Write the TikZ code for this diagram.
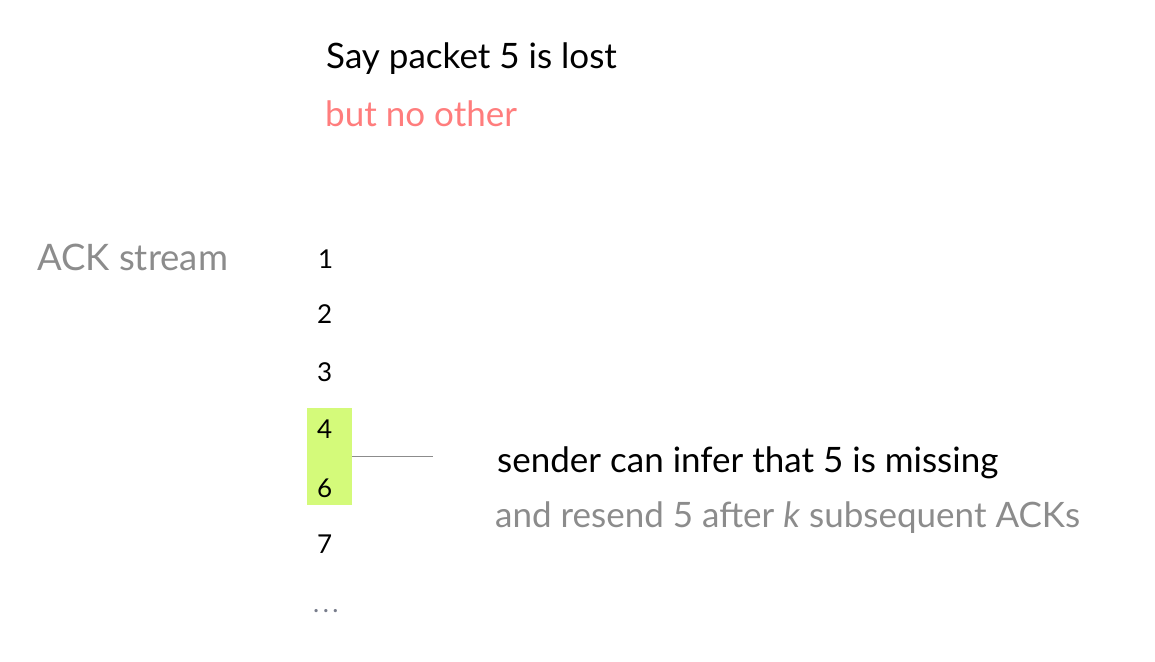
\documentclass[tikz,border=0pt]{standalone}
\usepackage{fontspec}
\setmainfont{Lato}
\usepackage{xcolor}
\usepackage{tikz}
\usetikzlibrary{positioning}
\definecolor{ackgray}{RGB}{140,140,140}
\definecolor{lostpink}{RGB}{255,125,125}
\definecolor{hlgreen}{RGB}{212,250,122}
\definecolor{dotgray}{RGB}{120,125,140}
\tikzset{
  title/.style={anchor=base west, inner sep=0pt, font=\fontsize{35}{40}\selectfont},
  subtitle/.style={title, text=lostpink},
  streamlbl/.style={title, text=ackgray, font=\fontsize{36.5}{42}\selectfont},
  ack/.style={anchor=base west, inner sep=0pt, font=\fontsize{26}{30}\selectfont},
  hlbox/.style={fill=hlgreen, draw=none, minimum width=45pt, minimum height=97pt, inner sep=0pt},
  note/.style={anchor=base west, inner sep=0pt, font=\fontsize{35}{40}\selectfont},
  subnote/.style={note, text=ackgray},
  link/.style={draw=ackgray, line width=1pt}
}
\begin{document}
\begin{tikzpicture}[x=1pt, y=-1pt]
\useasboundingbox (0,0) rectangle (1155,661);
\node[title] (say) at (326,68) {Say packet 5 is lost};
\node[subtitle] (other) at (325,126) {but no other};
\node[streamlbl] (stream) at (37,270) {ACK stream};
% highlighted pair
\node[hlbox] (hl) at (329.5,456.5) {};
\node[ack] (a1) at (318,268) {1};
\node[ack] (a2) at (317,323) {2};
\node[ack] (a3) at (317,381) {3};
\node[ack] (a4) at (317,438) {4};
\node[ack] (a6) at (317,497) {6};
\node[ack] (a7) at (317,553) {7};
\node[ack, text=dotgray] (dots) at (313,612) {.\kern3.5pt.\kern3.5pt.};
\coordinate (tip) at (433,456.5);
\draw[link] (hl.east) -- (tip);
\node[note] (infer) at (497,472) {sender can infer that 5 is missing};
\node[subnote] (resend) at (495,527) {and resend 5 after \textit{k} subsequent ACKs};
\end{tikzpicture}
\end{document}
